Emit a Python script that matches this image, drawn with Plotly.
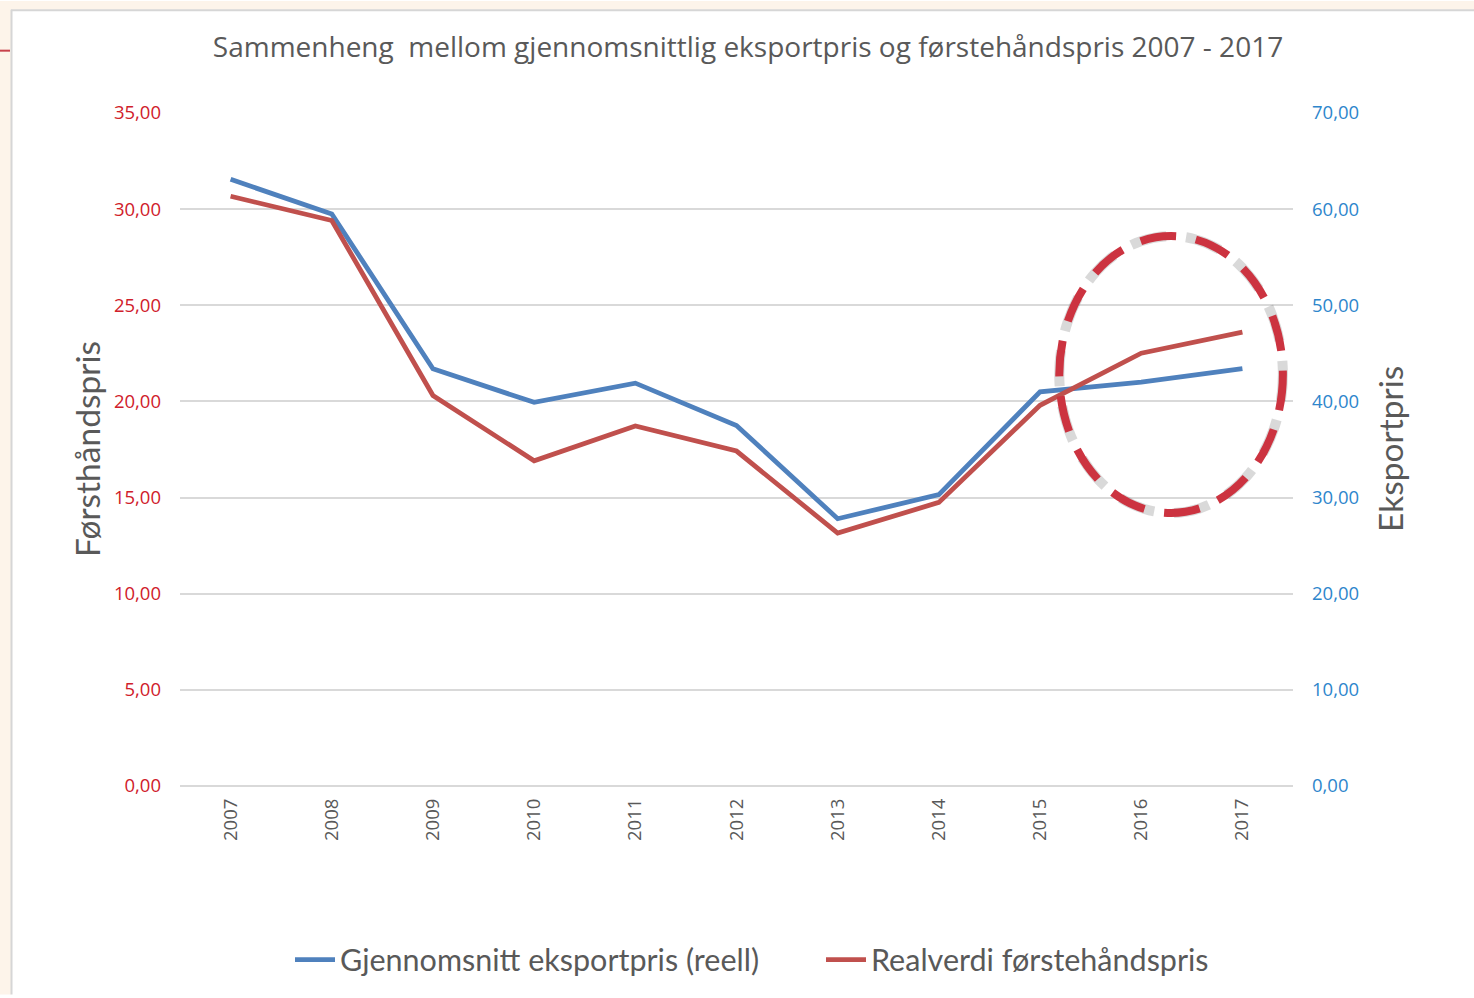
import plotly.graph_objects as go

# ---------------- data ----------------
years = ["2007", "2008", "2009", "2010", "2011", "2012", "2013", "2014", "2015", "2016", "2017"]
eksportpris = [63.1, 59.5, 43.4, 39.9, 41.9, 37.5, 27.8, 30.3, 41.0, 42.0, 43.4]
forstehandspris = [30.67, 29.41, 20.31, 16.91, 18.72, 17.42, 13.15, 14.75, 19.80, 22.51, 23.60]
left_ticks = [0, 5, 10, 15, 20, 25, 30, 35]
right_ticks = [0, 10, 20, 30, 40, 50, 60, 70]

title_text = "Sammenheng  mellom gjennomsnittlig eksportpris og førstehåndspris 2007 - 2017"
name_eksport = "Gjennomsnitt eksportpris (reell)"
name_forste = "Realverdi førstehåndspris"
left_title = "Førsthåndspris"
right_title = "Eksportpris"

# ---------------- layout geometry ----------------
FW, FH = 1474, 998
L, R, T, B = 180, 1293, 112.6, 788.5
W, H = R - L, B - T


def px(x):
    return (x - L) / W


def py(y):
    return (B - y) / H


BLUE = "#4F81BD"
RED = "#C0504D"
GREY_TXT = "#595959"
GRID = "#d9d9d9"
TICK_RED = "#d0202a"
TICK_BLUE = "#2e86cc"
PEACH = "#fdf4ea"

fig = go.Figure()
fig.add_trace(go.Scatter(
    x=years, y=eksportpris, name=name_eksport, mode="lines",
    line=dict(color=BLUE, width=4.8), yaxis="y"))
fig.add_trace(go.Scatter(
    x=years, y=forstehandspris, name=name_forste, mode="lines",
    line=dict(color=RED, width=4.8), yaxis="y2"))

shapes = [
    # page background strips (outside the chart panel)
    dict(type="rect", xref="paper", yref="paper", x0=px(0), x1=px(FW), y0=py(0), y1=py(9),
         fillcolor=PEACH, line=dict(width=0), layer="below"),
    dict(type="rect", xref="paper", yref="paper", x0=px(0), x1=px(11), y0=py(0), y1=py(FH),
         fillcolor=PEACH, line=dict(width=0), layer="below"),
    dict(type="line", xref="paper", yref="paper", x0=px(11), x1=px(FW), y0=py(9.5), y1=py(9.5),
         line=dict(color="#d6d6d6", width=2)),
    dict(type="line", xref="paper", yref="paper", x0=px(11.5), x1=px(11.5), y0=py(9), y1=py(FH),
         line=dict(color="#d6d6d6", width=2)),
    dict(type="line", xref="paper", yref="paper", x0=px(0), x1=px(10), y0=py(50), y1=py(50),
         line=dict(color="#c8414b", width=2)),
    # highlight ellipse soft shadow + ellipse
    dict(type="circle", xref="x", yref="y2", x0=8.19, x1=10.40, y0=14.2, y1=28.6,
         line=dict(color="rgba(80,80,80,0.22)", width=10, dash="26px,20px,10px,0px")),
    dict(type="circle", xref="x", yref="y2", x0=8.19, x1=10.40, y0=14.2, y1=28.6,
         line=dict(color="#cc3340", width=8, dash="36px,20px")),
]

annotations = [
    dict(text=left_title, xref="paper", yref="paper", x=px(87), y=py(450),
         xanchor="center", yanchor="middle", textangle=-90, showarrow=False,
         font=dict(family="Lato", size=33.5, color=GREY_TXT)),
    dict(text=right_title, xref="paper", yref="paper", x=px(1390), y=py(450),
         xanchor="center", yanchor="middle", textangle=-90, showarrow=False,
         font=dict(family="Lato", size=33.5, color=GREY_TXT)),
]

fig.update_layout(
    width=FW, height=FH, autosize=False,
    margin=dict(l=L, r=FW - R, t=T, b=FH - B, pad=0),
    paper_bgcolor="white", plot_bgcolor="white",
    separators=", ",
    title=dict(text=title_text, x=px(748), xref="paper", xanchor="center",
               y=1 - 47 / FH, yref="container", yanchor="middle",
               font=dict(family="Open Sans", size=28, color=GREY_TXT)),
    xaxis=dict(type="category", range=[-0.5, 10.5], tickangle=-90,
               showgrid=False, showline=False, zeroline=False, ticks="",
               ticklabelstandoff=8,
               tickfont=dict(family="Open Sans", size=18.5, color=GREY_TXT)),
    yaxis=dict(side="right", range=[0, 70], tickvals=right_ticks, tickformat=".2f",
               showgrid=True, gridcolor=GRID, gridwidth=2,
               zeroline=True, zerolinecolor=GRID, zerolinewidth=2,
               showline=False, ticks="", ticklabelstandoff=18,
               tickfont=dict(family="Open Sans", size=18.5, color=TICK_BLUE)),
    yaxis2=dict(side="left", overlaying="y", range=[0, 35], tickvals=left_ticks, tickformat=".2f",
                showgrid=False, zeroline=False, showline=False, ticks="",
                ticklabelstandoff=18,
                tickfont=dict(family="Open Sans", size=18.5, color=TICK_RED)),
    legend=dict(orientation="h", x=px(290), y=py(963), xanchor="left", yanchor="middle",
                font=dict(family="Lato", size=30.5, color=GREY_TXT),
                bgcolor="rgba(0,0,0,0)", itemwidth=40, tracegroupgap=0,
                entrywidth=476, entrywidthmode="pixels"),
    shapes=shapes,
    annotations=annotations,
    showlegend=True,
)

fig.write_html("out.html",
               config={"displayModeBar": False},
               post_script="document.body.style.margin='0px';document.body.style.overflow='hidden';")
